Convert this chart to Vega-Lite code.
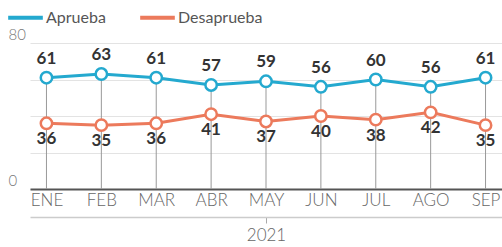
{
  "$schema": "https://vega.github.io/schema/vega-lite/v6.json",
  "width": 472,
  "height": 146,
  "autosize": {"type": "none"},
  "padding": {"left": 30, "top": 43, "right": 0, "bottom": 58},
  "config": {"view": {"stroke": null}, "font": "Lato"},
  "layer": [
    {
      "data": {"values": [
        {"mes": "ENE", "serie": "Aprueba", "valor": 61},
        {"mes": "FEB", "serie": "Aprueba", "valor": 63},
        {"mes": "MAR", "serie": "Aprueba", "valor": 61},
        {"mes": "ABR", "serie": "Aprueba", "valor": 57},
        {"mes": "MAY", "serie": "Aprueba", "valor": 59},
        {"mes": "JUN", "serie": "Aprueba", "valor": 56},
        {"mes": "JUL", "serie": "Aprueba", "valor": 60},
        {"mes": "AGO", "serie": "Aprueba", "valor": 56},
        {"mes": "SEP", "serie": "Aprueba", "valor": 61},
        {"mes": "ENE", "serie": "Desaprueba", "valor": 36},
        {"mes": "FEB", "serie": "Desaprueba", "valor": 35},
        {"mes": "MAR", "serie": "Desaprueba", "valor": 36},
        {"mes": "ABR", "serie": "Desaprueba", "valor": 41},
        {"mes": "MAY", "serie": "Desaprueba", "valor": 37},
        {"mes": "JUN", "serie": "Desaprueba", "valor": 40},
        {"mes": "JUL", "serie": "Desaprueba", "valor": 38},
        {"mes": "AGO", "serie": "Desaprueba", "valor": 42},
        {"mes": "SEP", "serie": "Desaprueba", "valor": 35}
      ]},
      "encoding": {
        "x": {
          "field": "mes", "type": "nominal", "sort": null,
          "scale": {"type": "point", "padding": 0.3},
          "axis": {
            "title": null, "orient": "bottom", "domainColor": "#555", "domainWidth": 2, "ticks": false,
            "labelFont": "Lato", "labelFontSize": 17, "labelFontWeight": 300,
            "labelColor": "#666", "labelPadding": 3, "labelAngle": 0
          }
        },
        "y": {
          "field": "valor", "type": "quantitative",
          "scale": {"domain": [0, 80], "nice": false},
          "axis": {
            "title": null, "values": [0, 20, 40, 60, 80],
            "labelExpr": "datum.value == 0 || datum.value == 80 ? datum.label : ''",
            "domain": false, "ticks": false, "gridColor": "#e3e3e3", "gridWidth": 1,
            "labelAlign": "left", "labelPadding": 22, "labelBaseline": "alphabetic",
            "labelOffset": -4, "labelFont": "Lato", "labelFontSize": 15,
            "labelFontWeight": 300, "labelColor": "#777"
          }
        }
      },
      "layer": [
        {
          "transform": [{"filter": "datum.serie == 'Aprueba'"}],
          "mark": {"type": "rule", "color": "#999", "strokeWidth": 1},
          "encoding": {"y2": {"datum": 0}}
        },
        {
          "mark": {"type": "line", "strokeWidth": 3},
          "encoding": {
            "color": {
              "field": "serie", "type": "nominal",
              "scale": {"domain": ["Aprueba", "Desaprueba"], "range": ["#24a9cf", "#ec7a5c"]},
              "legend": {
                "orient": "none", "legendX": -24, "legendY": -45, "direction": "horizontal",
                "title": null, "symbolType": "stroke", "symbolSize": 1200,
                "symbolStrokeWidth": 4, "labelFont": "Lato", "labelFontSize": 16,
                "labelColor": "#555", "labelOffset": 1, "columnPadding": 26
              }
            }
          }
        },
        {
          "mark": {"type": "point", "shape": "circle", "filled": false, "fill": "white", "fillOpacity": 1, "size": 130, "strokeWidth": 2.5, "opacity": 1},
          "encoding": {
            "stroke": {
              "field": "serie", "type": "nominal",
              "scale": {"domain": ["Aprueba", "Desaprueba"], "range": ["#24a9cf", "#ec7a5c"]},
              "legend": null
            }
          }
        },
        {
          "transform": [{"filter": "datum.serie == 'Aprueba'"}],
          "mark": {"type": "text", "dy": -19, "font": "Lato", "fontSize": 17, "fontWeight": "bold", "color": "#333"},
          "encoding": {"text": {"field": "valor", "type": "quantitative"}}
        },
        {
          "transform": [{"filter": "datum.serie == 'Desaprueba'"}],
          "mark": {"type": "text", "dy": 16, "font": "Lato", "fontSize": 17, "fontWeight": "bold", "color": "#333"},
          "encoding": {"text": {"field": "valor", "type": "quantitative"}}
        }
      ]
    },
    {
      "data": {"values": [{"anio": "2021"}]},
      "mark": {"type": "rule", "opacity": 0},
      "encoding": {
        "x": {
          "field": "anio", "type": "nominal",
          "scale": {"type": "point"},
          "axis": {
            "title": null, "orient": "bottom", "offset": 28, "domainColor": "#ccc", "domainWidth": 1.5,
            "tickColor": "#aaa", "tickSize": 6, "labelFont": "Lato", "labelFontSize": 17,
            "labelFontWeight": 300, "labelColor": "#666", "labelPadding": 4, "labelAngle": 0
          }
        }
      }
    }
  ],
  "resolve": {"scale": {"x": "independent"}}
}
